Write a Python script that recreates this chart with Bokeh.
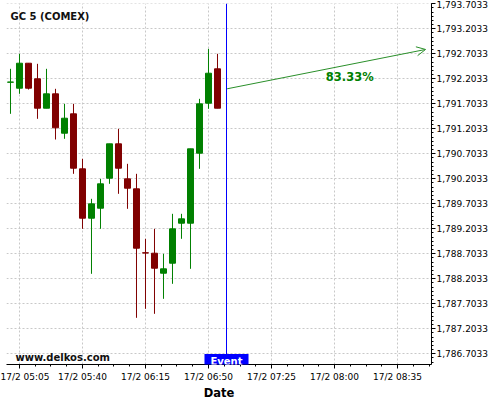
import numpy as np
import pandas as pd
from bokeh.plotting import figure
from bokeh.models import (ColumnDataSource, Range1d, FixedTicker, NumeralTickFormatter,
                          Span, Label, Arrow, OpenHead)
from bokeh.embed import file_html
from bokeh.resources import INLINE

DAY = "2021-02-17 "

# ---- data (5-minute candles) ----
times = ["05:00", "05:05", "05:10", "05:15", "05:20", "05:25", "05:30", "05:35",
         "05:40", "05:45", "05:50", "05:55", "06:00", "06:05", "06:10", "06:15",
         "06:20", "06:25", "06:30", "06:35", "06:40", "06:45", "06:50", "06:55"]
opens = [1792.135, 1792.015, 1792.515, 1792.203, 1791.615, 1791.903, 1791.115, 1791.503,
         1790.403, 1789.415, 1789.615, 1790.215, 1790.903, 1790.203, 1790.003, 1788.723,
         1788.715, 1788.315, 1788.515, 1789.315, 1789.315, 1790.715, 1791.715, 1792.403]
closes = [1792.138, 1792.515, 1792.015, 1791.615, 1791.903, 1791.223, 1791.415, 1790.415,
          1789.415, 1789.703, 1790.103, 1790.903, 1790.415, 1790.015, 1788.815, 1788.720,
          1788.415, 1788.403, 1789.203, 1789.403, 1790.803, 1791.703, 1792.315, 1791.615]
highs = [1792.403, 1792.703, 1792.515, 1792.503, 1792.403, 1792.003, 1791.703, 1791.703,
         1790.603, 1789.803, 1790.203, 1790.903, 1791.203, 1790.503, 1790.303, 1789.003,
         1789.203, 1788.703, 1789.503, 1789.503, 1790.803, 1791.803, 1792.803, 1792.703]
lows = [1791.503, 1791.903, 1791.989, 1791.403, 1791.615, 1790.989, 1791.003, 1790.303,
        1789.203, 1788.303, 1789.203, 1790.103, 1789.903, 1789.603, 1787.423, 1787.603,
        1787.503, 1787.803, 1788.103, 1789.003, 1788.403, 1790.403, 1791.603, 1791.615]

x_tick_times = ["05:05", "05:40", "06:15", "06:50", "07:25", "08:00", "08:35"]
x_tick_labels = ["17/2 05:05", "17/2 05:40", "17/2 06:15", "17/2 06:50",
                 "17/2 07:25", "17/2 08:00", "17/2 08:35"]
y_ticks = [1786.7033, 1787.2033, 1787.7033, 1788.2033, 1788.7033, 1789.2033, 1789.7033,
           1790.2033, 1790.7033, 1791.2033, 1791.7033, 1792.2033, 1792.7033, 1793.2033,
           1793.7033]

title_text = "GC 5 (COMEX)"
site_text = "www.delkos.com"
event_text = "Event"
event_time = "07:00"
arrow_start = ("07:00:20", 1792.0033)
arrow_end = ("08:50:36", 1792.79)
pct_text = "83.33%"
pct_pos = ("08:08:30", 1792.249)

GREEN = "#008000"
RED = "#800000"
ARROW_GREEN = "#2a8f2a"
FONT = "DejaVu Sans"


def ms(t):
    return pd.Timestamp(DAY + t).value / 1e6


MIN = 60000.0
xs = [ms(t) for t in times]
colors = [GREEN if c >= o else RED for o, c in zip(opens, closes)]
src = ColumnDataSource(dict(
    x=xs, open=opens, close=closes, high=highs, low=lows,
    top=[max(o, c) for o, c in zip(opens, closes)],
    bottom=[min(o, c) for o, c in zip(opens, closes)],
    color=colors,
))

x_start = ms("04:57:47")
x_end = ms("08:53:53")
y_start, y_end = 1786.4893, 1793.7093
p = figure(frame_width=425, frame_height=361,
           x_range=Range1d(x_start, x_end), y_range=Range1d(y_start, y_end),
           y_axis_location="right", output_backend="svg", toolbar_location=None,
           min_border_left=6, min_border_top=3, min_border_right=0, min_border_bottom=0,
           background_fill_color="white", border_fill_color="white")
p.outline_line_color = None

# grid
for g in (p.xgrid, p.ygrid):
    g.grid_line_color = "#c8c8c8"
    g.grid_line_dash = "2 2"
    g.grid_line_width = 1

# x axis
xt = [ms(t) for t in x_tick_times]
step = 35 * MIN
minor_x = list(np.arange(xt[0] - step, x_end + 1, step / 4))
p.xaxis.ticker = FixedTicker(ticks=xt, minor_ticks=minor_x)
p.xaxis.major_label_overrides = {v: lab for v, lab in zip(xt, x_tick_labels)}
p.xaxis.axis_label = "Date"
p.xaxis.axis_label_text_font = FONT
p.xaxis.axis_label_text_font_style = "bold"
p.xaxis.axis_label_text_font_size = "11.5px"
p.xaxis.axis_label_text_color = "#000000"
p.xaxis.axis_label_standoff = 1
p.xaxis.major_label_standoff = 3

# y axis
ystep = 0.5
minor_y = list(np.arange(y_ticks[0] - ystep, 1793.8, ystep / 6))
p.yaxis.ticker = FixedTicker(ticks=y_ticks, minor_ticks=minor_y)
p.yaxis.formatter = NumeralTickFormatter(format="0,0.0000")
p.yaxis.major_label_standoff = 1

for ax in (p.xaxis, p.yaxis):
    ax.major_label_text_font = FONT
    ax.major_label_text_font_size = "9px"
    ax.major_label_text_color = "#000000"
    ax.axis_line_color = "#000000"
    ax.major_tick_line_color = "#000000"
    ax.minor_tick_line_color = "#000000"
    ax.major_tick_out = 4
    ax.major_tick_in = 0
    ax.minor_tick_out = 2
    ax.minor_tick_in = 0

# candles
p.segment(x0="x", y0="low", x1="x", y1="high", line_color="color", line_width=1, source=src)
p.vbar(x="x", width=3.33 * MIN, top="top", bottom="bottom",
       fill_color="color", line_color="color", line_width=1, source=src)

# event line
p.add_layout(Span(location=ms(event_time), dimension="height", line_color="#0000ff", line_width=1))

# arrow + percentage
p.add_layout(Arrow(end=OpenHead(size=9, line_color=ARROW_GREEN, line_width=1),
                   x_start=ms(arrow_start[0]), y_start=arrow_start[1],
                   x_end=ms(arrow_end[0]), y_end=arrow_end[1],
                   line_color=ARROW_GREEN, line_width=1))
p.add_layout(Label(x=ms(pct_pos[0]), y=pct_pos[1], text=pct_text, text_align="center",
                   text_baseline="middle", text_font=FONT, text_font_style="bold",
                   text_font_size="11.5px", text_color=GREEN))

# title and site
p.add_layout(Label(x=x_start, y=y_end, x_offset=4, y_offset=-7, text=title_text,
                   text_align="left", text_baseline="top", text_font=FONT,
                   text_font_style="bold", text_font_size="10px", text_color="#111111"))
p.add_layout(Label(x=x_start, y=y_start, x_offset=9, y_offset=7, text=site_text,
                   text_align="left", text_baseline="alphabetic", text_font=FONT,
                   text_font_style="bold", text_font_size="10px", text_color="#111111"))

# event box
p.add_layout(Label(x=ms(event_time), y=y_start, y_offset=3, text=event_text,
                   text_align="center", text_baseline="alphabetic", text_font=FONT,
                   text_font_style="bold", text_font_size="10px", text_color="#ffffff",
                   background_fill_color="#0000ff", padding=(6, 2)))

open("out.html", "w").write(file_html(p, INLINE))
